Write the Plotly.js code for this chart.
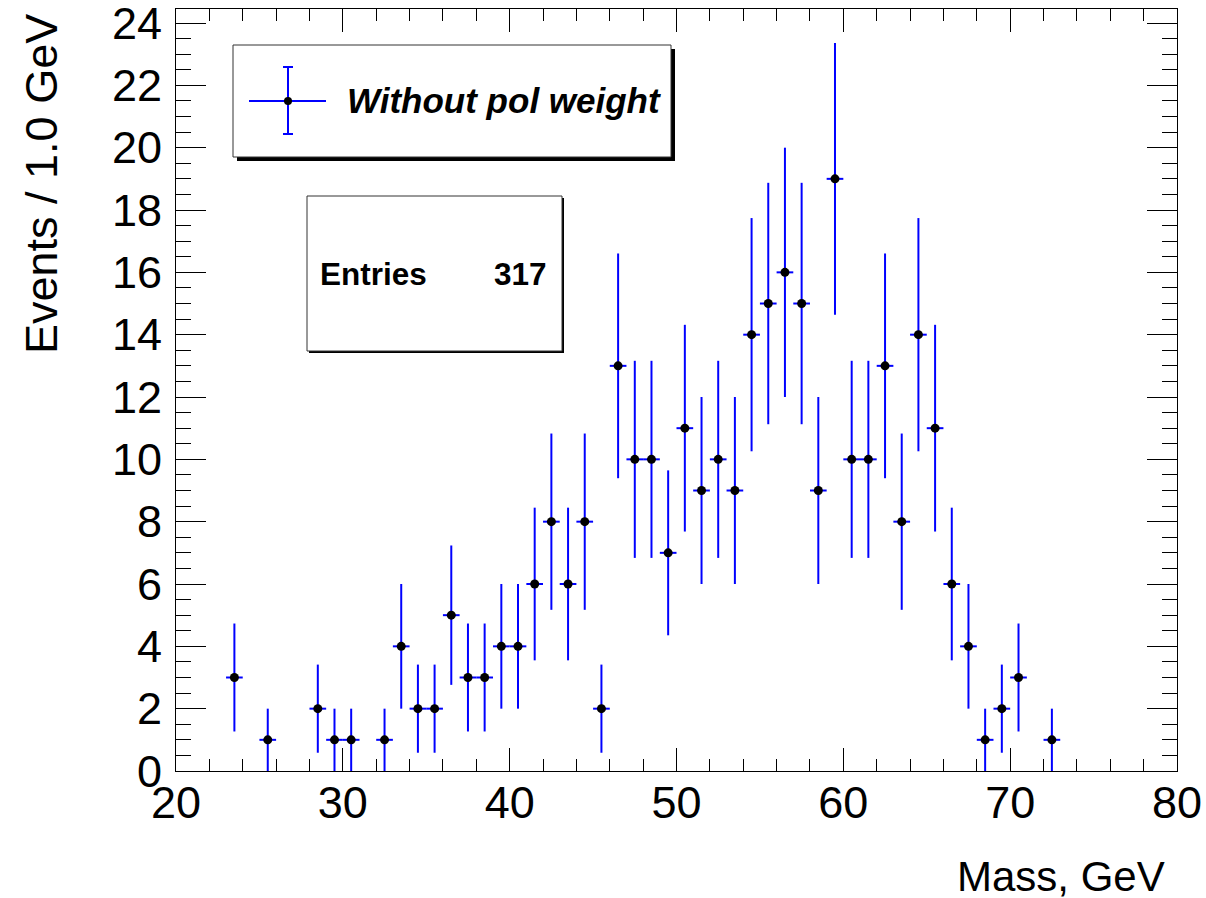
<!DOCTYPE html>
<html>
<head>
<meta charset="utf-8">
<script src="https://cdn.plot.ly/plotly-3.0.1.min.js"></script>
<style>
html,body{margin:0;padding:0;background:#fff;}
#chart{width:1206px;height:898px;}
</style>
</head>
<body>
<div id="chart"></div>
<script>
// Bin centres (GeV) of non-empty bins and their event counts
const massBins = [23.5, 25.5, 28.5, 29.5, 30.5, 32.5, 33.5, 34.5, 35.5, 36.5, 37.5, 38.5, 39.5, 40.5,
  41.5, 42.5, 43.5, 44.5, 45.5, 46.5, 47.5, 48.5, 49.5, 50.5, 51.5, 52.5, 53.5, 54.5, 55.5, 56.5,
  57.5, 58.5, 59.5, 60.5, 61.5, 62.5, 63.5, 64.5, 65.5, 66.5, 67.5, 68.5, 69.5, 70.5, 72.5];
const events = [3, 1, 2, 1, 1, 1, 4, 2, 2, 5, 3, 3, 4, 4,
  6, 8, 6, 8, 2, 13, 10, 10, 7, 11, 9, 10, 9, 14, 15, 16,
  15, 9, 19, 10, 10, 13, 8, 14, 11, 6, 4, 1, 2, 3, 1];
const binHalfWidth = 0.5;
const legendLabel = "Without pol weight";
const entriesLabel = "Entries";
const entriesValue = "317";
const xTitle = "Mass, GeV";
const yTitle = "Events / 1.0 GeV";

const FONT = "Liberation Sans, Arial, Helvetica, sans-serif";
const W = 1206, H = 898;
const L = 176, R = 29, T = 9, B = 127;
const pw = W - L - R, ph = H - T - B;
const px = v => (v - L) / pw;
const py = v => (H - B - v) / ph;

const trace = {
  type: 'scatter', mode: 'markers',
  x: massBins, y: events,
  marker: {color: '#000', size: 9, symbol: 'circle'},
  error_y: {type: 'sqrt', visible: true, color: '#0000ff', thickness: 2, width: 0},
  error_x: {type: 'constant', value: binHalfWidth, visible: true, color: '#0000ff', thickness: 2, width: 0},
  showlegend: false, hoverinfo: 'x+y'
};

function rect(x0, y0, x1, y1, opts) {
  return Object.assign({type: 'rect', xref: 'paper', yref: 'paper',
    x0: px(x0), x1: px(x1), y0: py(y1), y1: py(y0), layer: 'above'}, opts);
}
function line(x0, y0, x1, y1, color, w) {
  return {type: 'line', xref: 'paper', yref: 'paper', x0: px(x0), x1: px(x1), y0: py(y0), y1: py(y1),
    line: {color: color, width: w}, layer: 'above'};
}

const shapes = [
  // legend box with shadow
  rect(237, 49, 675, 161, {fillcolor: '#000', line: {width: 0}}),
  rect(233, 45, 671, 157, {fillcolor: '#fff', line: {color: '#333', width: 1}}),
  line(249, 101, 326, 101, '#0000ff', 2),
  line(288, 67, 288, 134, '#0000ff', 2),
  line(283, 67, 293, 67, '#0000ff', 2),
  line(283, 134, 293, 134, '#0000ff', 2),
  {type: 'circle', xref: 'paper', yref: 'paper', x0: px(284), x1: px(292), y0: py(105), y1: py(97),
    fillcolor: '#000', line: {width: 0}, layer: 'above'},
  // stats box with shadow
  rect(309, 198, 564, 353, {fillcolor: '#000', line: {width: 0}}),
  rect(307, 196, 562, 351, {fillcolor: '#fff', line: {color: '#333', width: 1}})
];

const annotations = [
  {xref: 'paper', yref: 'paper', x: px(345), y: py(101), xanchor: 'left', yanchor: 'middle',
    text: '<b><i>' + legendLabel + '</i></b>', showarrow: false, font: {family: FONT, size: 35, color: '#000'}},
  {xref: 'paper', yref: 'paper', x: px(318), y: py(274), xanchor: 'left', yanchor: 'middle',
    text: '<b>' + entriesLabel + '</b>', showarrow: false, font: {family: FONT, size: 31.5, color: '#000'}},
  {xref: 'paper', yref: 'paper', x: px(549), y: py(274), xanchor: 'right', yanchor: 'middle',
    text: '<b>' + entriesValue + '</b>', showarrow: false, font: {family: FONT, size: 31.5, color: '#000'}},
  {xref: 'paper', yref: 'paper', x: px(1167), y: py(876), xanchor: 'right', yanchor: 'middle',
    text: xTitle, showarrow: false, font: {family: FONT, size: 42, color: '#000'}},
  {xref: 'paper', yref: 'paper', x: px(41), y: py(12), xanchor: 'center', yanchor: 'top', textangle: -90,
    text: yTitle, showarrow: false, font: {family: FONT, size: 45, color: '#000'}}
];

const layout = {
  width: W, height: H,
  margin: {l: L, r: R, t: T, b: B, pad: 0},
  paper_bgcolor: '#fff', plot_bgcolor: '#fff',
  font: {family: FONT, color: '#000'},
  showlegend: false,
  xaxis: {
    range: [20, 80], tick0: 20, dtick: 10, tickmode: 'linear',
    ticks: 'inside', ticklen: 23, tickwidth: 1, tickcolor: '#000',
    minor: {dtick: 2, tick0: 20, ticks: 'inside', ticklen: 12, tickwidth: 1, tickcolor: '#000', showgrid: false},
    showline: true, linecolor: '#000', linewidth: 1, mirror: 'allticks',
    showgrid: false, zeroline: false,
    tickfont: {family: FONT, size: 45, color: '#000'},
    ticklabelstandoff: -8,
    ticklabeloverflow: 'allow'
  },
  yaxis: {
    range: [0, 24.45], tick0: 0, dtick: 2, tickmode: 'linear',
    ticks: 'inside', ticklen: 30, tickwidth: 1, tickcolor: '#000',
    minor: {dtick: 0.5, tick0: 0, ticks: 'inside', ticklen: 15, tickwidth: 1, tickcolor: '#000', showgrid: false},
    showline: true, linecolor: '#000', linewidth: 1, mirror: 'allticks',
    showgrid: false, zeroline: false,
    tickfont: {family: FONT, size: 45, color: '#000'},
    ticklabelstandoff: 4,
    ticklabeloverflow: 'allow'
  },
  shapes: shapes,
  annotations: annotations
};

Plotly.newPlot('chart', [trace], layout, {displayModeBar: false, staticPlot: true});
</script>
</body>
</html>
